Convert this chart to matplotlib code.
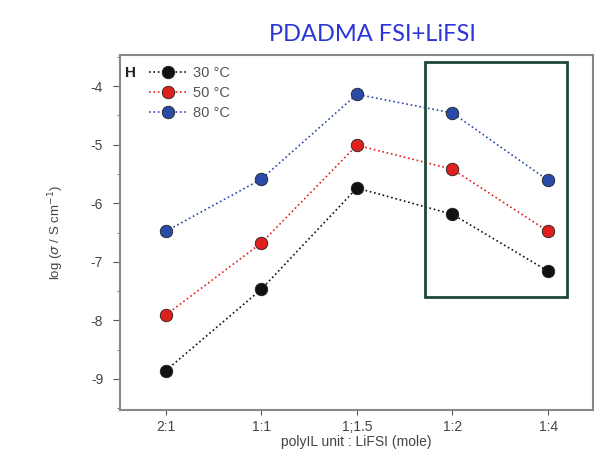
import numpy as np
import matplotlib.pyplot as plt
from matplotlib.patches import Rectangle
from matplotlib.ticker import MultipleLocator

# Дані
ratios = ['2:1', '1:1', '1;1.5', '1:2', '1:4']
t30 = [-8.86, -7.47, -5.74, -6.19, -7.16]
t50 = [-7.91, -6.68, -5.01, -5.42, -6.48]
t80 = [-6.48, -5.59, -4.14, -4.46, -5.61]
labels = ['30 °C', '50 °C', '80 °C']
colors = ['#111111', '#e0201c', '#2a4aa8']

# рамка виділення (координати даних)
box_x0, box_x1 = 2.71, 4.20
box_y0, box_y1 = -7.60, -3.59

plt.rcParams['font.family'] = ['Liberation Sans', 'DejaVu Sans']
plt.rcParams['axes.unicode_minus'] = False

fig = plt.figure(figsize=(5.96, 4.55), dpi=100)
ax = fig.add_axes([0.201, 0.099, 0.794, 0.780])

x = np.arange(len(ratios))
for ys, lab, c in zip([t30, t50, t80], labels, colors):
    ax.plot(x, ys, linestyle=':', color=c, linewidth=1.2, marker='o',
            markersize=9, markerfacecolor=c, markeredgecolor='#222222',
            markeredgewidth=0.6, label=lab)

ax.add_patch(Rectangle((box_x0, box_y0), box_x1 - box_x0, box_y1 - box_y0,
                       fill=False, edgecolor='#1e4a35', linewidth=2,
                       clip_on=False, zorder=5))

ax.set_xlim(-0.48, 4.47)
ax.set_ylim(-9.53, -3.47)
ax.set_xticks(x)
ax.set_xticklabels(ratios)
ax.yaxis.set_major_locator(MultipleLocator(1))
ax.yaxis.set_minor_locator(MultipleLocator(0.5))
ax.tick_params(axis='both', direction='out', colors='#555555',
               labelcolor='#444444', labelsize=10)
ax.tick_params(axis='y', which='major', length=5, pad=7)
ax.tick_params(axis='y', which='minor', direction='out', colors='#555555')
for s in ax.spines.values():
    s.set_color('#888888')
    s.set_linewidth(1.5)

ax.set_xlabel('polyIL unit : LiFSI (mole)', color='#444444', fontsize=10,
              labelpad=1)
ax.set_ylabel('log ($\\sigma$ / S cm$^{-1}$)', color='#444444', fontsize=9.5,
              labelpad=18)

ax.text(0.01, 0.97, 'H', transform=ax.transAxes, fontsize=11,
        fontweight='bold', va='top', ha='left', color='#222222')
leg = ax.legend(loc='upper left', bbox_to_anchor=(0.035, 1.005),
                frameon=False, fontsize=10.5, handlelength=2.6,
                labelspacing=0.4, handletextpad=0.4)
for t in leg.get_texts():
    t.set_color('#555555')

fig.text(0.625, 0.925, 'PDADMA FSI+LiFSI', color='#2b36d6', fontsize=17,
         ha='center', va='center', family=['Lato', 'DejaVu Sans'])

fig.savefig('out.png', dpi=100)
